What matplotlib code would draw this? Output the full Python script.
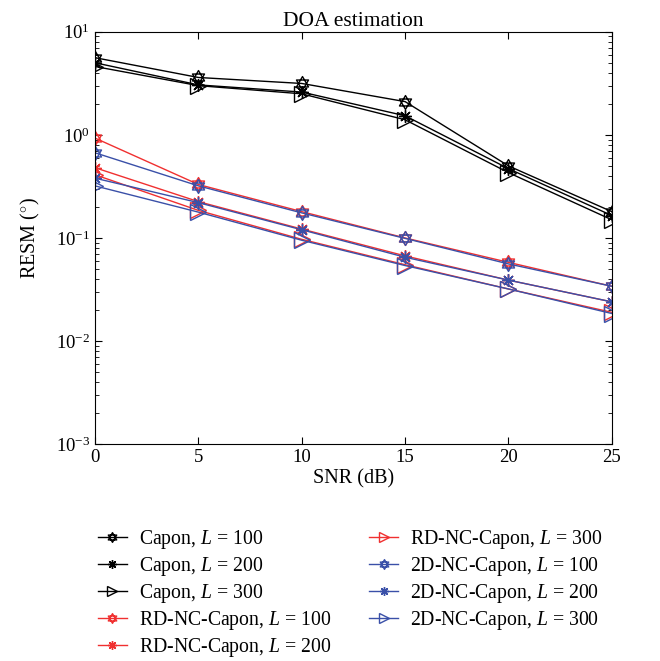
import numpy as np
import matplotlib.pyplot as plt
from matplotlib.path import Path

snr = [0, 5, 10, 15, 20, 25]

capon_100 = [5.6, 3.6, 3.15, 2.1, 0.50, 0.18]
capon_200 = [5.0, 3.05, 2.6, 1.53, 0.47, 0.165]
capon_300 = [4.6, 3.0, 2.5, 1.4, 0.43, 0.15]
rd_100 = [0.93, 0.33, 0.18, 0.10, 0.058, 0.034]
rd_200 = [0.48, 0.225, 0.122, 0.067, 0.039, 0.024]
rd_300 = [0.41, 0.185, 0.097, 0.055, 0.032, 0.019]
nc2d_100 = [0.67, 0.32, 0.175, 0.099, 0.056, 0.034]
nc2d_200 = [0.38, 0.22, 0.12, 0.065, 0.039, 0.024]
nc2d_300 = [0.32, 0.178, 0.095, 0.054, 0.032, 0.0185]

labels = [
    r"Capon, $L$ = 100", r"Capon, $L$ = 200", r"Capon, $L$ = 300",
    r"RD-NC-Capon, $L$ = 100", r"RD-NC-Capon, $L$ = 200", r"RD-NC-Capon, $L$ = 300",
    r"2D-NC-Capon, $L$ = 100", r"2D-NC-Capon, $L$ = 200", r"2D-NC-Capon, $L$ = 300",
]
series = [capon_100, capon_200, capon_300, rd_100, rd_200, rd_300,
          nc2d_100, nc2d_200, nc2d_300]


def hexagram():
    up = [np.deg2rad(a) for a in (90, 210, 330)]
    dn = [np.deg2rad(a) for a in (270, 30, 150)]
    verts, codes = [], []
    for tri in (up, dn):
        pts = [(np.cos(a), np.sin(a)) for a in tri]
        verts += pts + [pts[0]]
        codes += [Path.MOVETO, Path.LINETO, Path.LINETO, Path.CLOSEPOLY]
    return Path(verts, codes)


plt.rcParams["font.family"] = ["Liberation Serif", "DejaVu Serif"]
plt.rcParams["mathtext.fontset"] = "custom"
plt.rcParams["mathtext.it"] = "Liberation Serif:italic"
plt.rcParams["mathtext.rm"] = "Liberation Serif"

colors = ["black"] * 3 + ["#f03030"] * 3 + ["#3a50a8"] * 3
markers = [hexagram(), (8, 2, 0), ">"] * 3
sizes = [10, 9, 11] * 3

fig = plt.figure(figsize=(6.6, 6.61), dpi=100)
ax = fig.add_axes([0.144, 0.328, 0.783, 0.624])
for vals, lab, c, m, s in zip(series, labels, colors, markers, sizes):
    ax.plot(snr, vals, color=c, marker=m, markersize=s, mfc="none",
            mec=c, mew=1.0, linewidth=1.0, label=lab)

ax.set_yscale("log")
ax.set_ylim(1e-3, 10)
ax.set_xlim(0, 25)
ax.set_xticks(snr)
ax.tick_params(which="both", direction="in", top=True, right=True,
               labelsize=13.5)
ax.tick_params(which="major", length=5)
ax.tick_params(which="minor", length=3)
ax.set_xlabel("SNR (dB)", fontsize=14.5, labelpad=2)
ax.set_ylabel(r"RESM ($^{\circ}$)", fontsize=14.5, labelpad=10)
ax.set_title("DOA estimation", fontsize=15.5, pad=4)

fig.legend(loc="upper left", bbox_to_anchor=(0.148, 0.201), ncol=2,
           frameon=False, fontsize=14.2, handlelength=1.5, handletextpad=0.6,
           markerscale=0.7, columnspacing=1.9, labelspacing=0.2,
           borderaxespad=0, borderpad=0)

fig.savefig("out.png", dpi=100)
